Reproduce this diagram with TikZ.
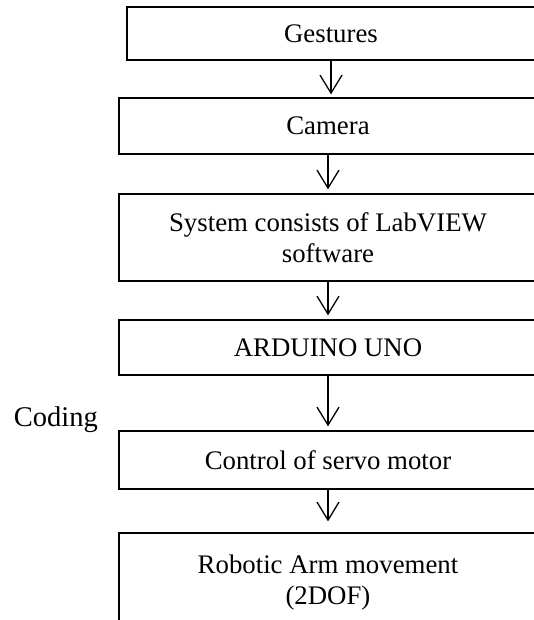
\documentclass[tikz,border=0pt]{standalone}
\usepackage{fontspec}
\setmainfont{Liberation Serif}
\usetikzlibrary{arrows.meta}

\begin{document}
\begin{tikzpicture}[x=1pt, y=-1pt, line width=1.3pt,
    every node/.style={font=\fontsize{26.8}{31}\selectfont},
    stepbox/.style={draw, inner sep=0pt, minimum width=418pt, align=center},
    flow/.style={-{Straight Barb[length=18pt, width=22pt]}}]
  \clip (0,0) rectangle (534,620);
  \node[stepbox, minimum width=408pt, minimum height=53pt] (gest) at (331,33.5) {Gestures};
  \node[stepbox, minimum height=56pt] (cam) at (328,126) {Camera};
  \node[stepbox, minimum height=87pt] (labview) at (328,237.5) {System consists of LabVIEW\\software};
  \node[stepbox, minimum height=55pt] (uno) at (328,347.5) {ARDUINO UNO};
  \node[stepbox, minimum height=58pt] (servo) at (328,460) {Control of servo motor};
  \node[stepbox, minimum height=100pt] (arm) at (328,583) {Robotic Arm movement\\(2DOF)};

  \node[anchor=west, font=\fontsize{28.5}{32}\selectfont] (coding) at (10,420) {Coding};

  \draw[flow, shorten >=3pt] (gest.south) -- (gest.south |- cam.north);
  \draw[flow, shorten >=4pt] (cam.south) -- (labview.north);
  \draw[flow, shorten >=4pt] (labview.south) -- (uno.north);
  \draw[flow, shorten >=4pt] (uno.south) -- (servo.north);
  \draw[flow, shorten >=11pt] (servo.south) -- (arm.north);
\end{tikzpicture}
\end{document}
